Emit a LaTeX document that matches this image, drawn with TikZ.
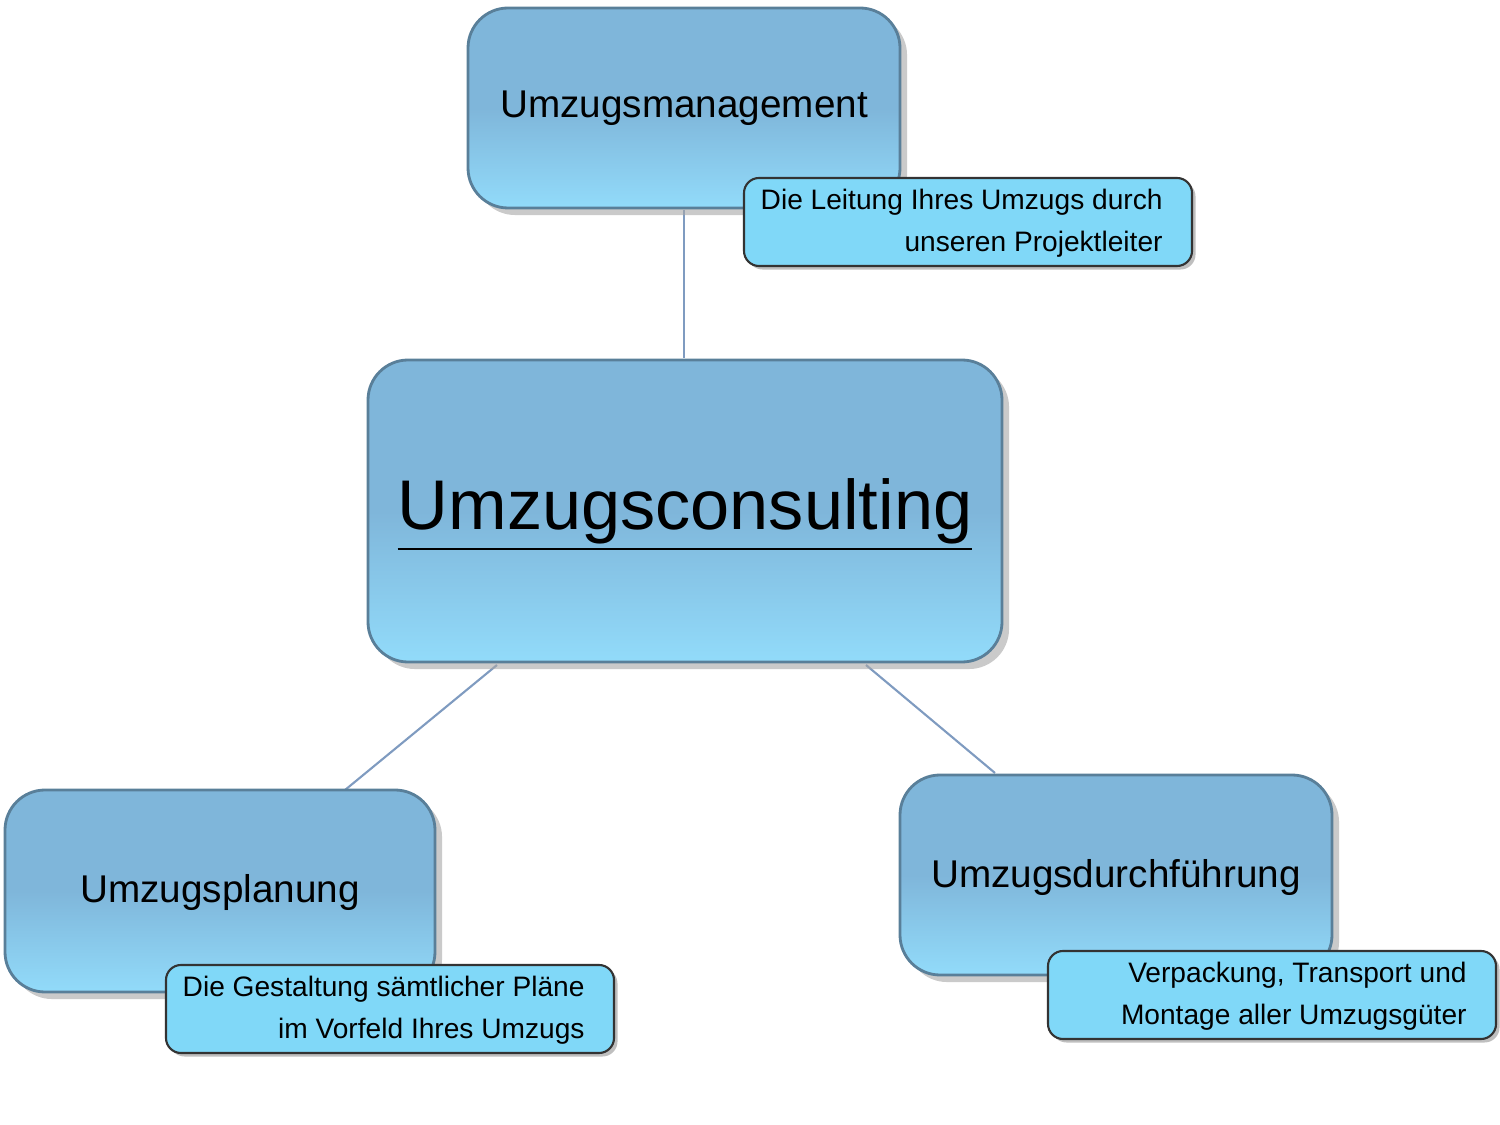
\documentclass[tikz,border=0pt]{standalone}
\usepackage{fontspec}
\setmainfont{Liberation Sans}
\usetikzlibrary{shadows}
\definecolor{btop}{HTML}{7FB6DA}
\definecolor{bbot}{HTML}{92DBFA}
\definecolor{cfill}{HTML}{80D8F8}
\definecolor{lline}{HTML}{7F9BC0}
\tikzset{
 px/.style={x=0.01cm,y=-0.01cm},
 bigbox/.style={rounded corners=0.4cm, top color=btop, bottom color=bbot, middle color=btop, draw=btop!70!black, line width=0.8pt, drop shadow={shadow xshift=2pt,shadow yshift=-2pt,fill=gray!70,opacity=0.6}},
 callout/.style={rounded corners=0.15cm, fill=cfill, draw=black!80, line width=0.6pt, drop shadow={shadow xshift=1pt,shadow yshift=-1pt,fill=gray,opacity=0.5}},
 conn/.style={draw=lline, line width=0.6pt},
}
\begin{document}
\begin{tikzpicture}[px]
\useasboundingbox (0,0) rectangle (1500,1125);
% connectors
\coordinate (t1) at (684,210); \coordinate (t2) at (684,358);
\coordinate (l1) at (497,665); \coordinate (l2) at (345,790);
\coordinate (r1) at (866,665); \coordinate (r2) at (995,773);
\draw[conn] (t1) -- (t2);
\draw[conn] (l1) -- (l2);
\draw[conn] (r1) -- (r2);
% boxes
\path[bigbox] (468,8) rectangle (900,208);
\node (top) at (684,108) {\fontsize{11}{13}\selectfont Umzugsmanagement};
\path[bigbox] (368,360) rectangle (1002,662);
\node (ctr) at (685,515) {\fontsize{20}{24}\selectfont\underline{Umzugsconsulting}};
\path[bigbox] (5,790) rectangle (435,992);
\node (lft) at (220,892) {\fontsize{11}{13}\selectfont Umzugsplanung};
\path[bigbox] (900,775) rectangle (1332,975);
\node (rgt) at (1116,877) {\fontsize{11}{13}\selectfont Umzugsdurchführung};
% callouts
\path[callout] (744,178) rectangle (1192,266);
\node[anchor=east,align=right] (ct) at (1175,223) {\fontsize{8}{10}\selectfont Die Leitung Ihres Umzugs durch\\ \fontsize{8}{10}\selectfont unseren Projektleiter};
\path[callout] (166,965) rectangle (614,1053);
\node[anchor=east,align=right] (cl) at (597,1010) {\fontsize{8}{10}\selectfont Die Gestaltung sämtlicher Pläne\\ \fontsize{8}{10}\selectfont im Vorfeld Ihres Umzugs};
\path[callout] (1048,951) rectangle (1496,1039);
\node[anchor=east,align=right] (cr) at (1479,996) {\fontsize{8}{10}\selectfont Verpackung, Transport und\\ \fontsize{8}{10}\selectfont Montage aller Umzugsgüter};
\end{tikzpicture}
\end{document}
